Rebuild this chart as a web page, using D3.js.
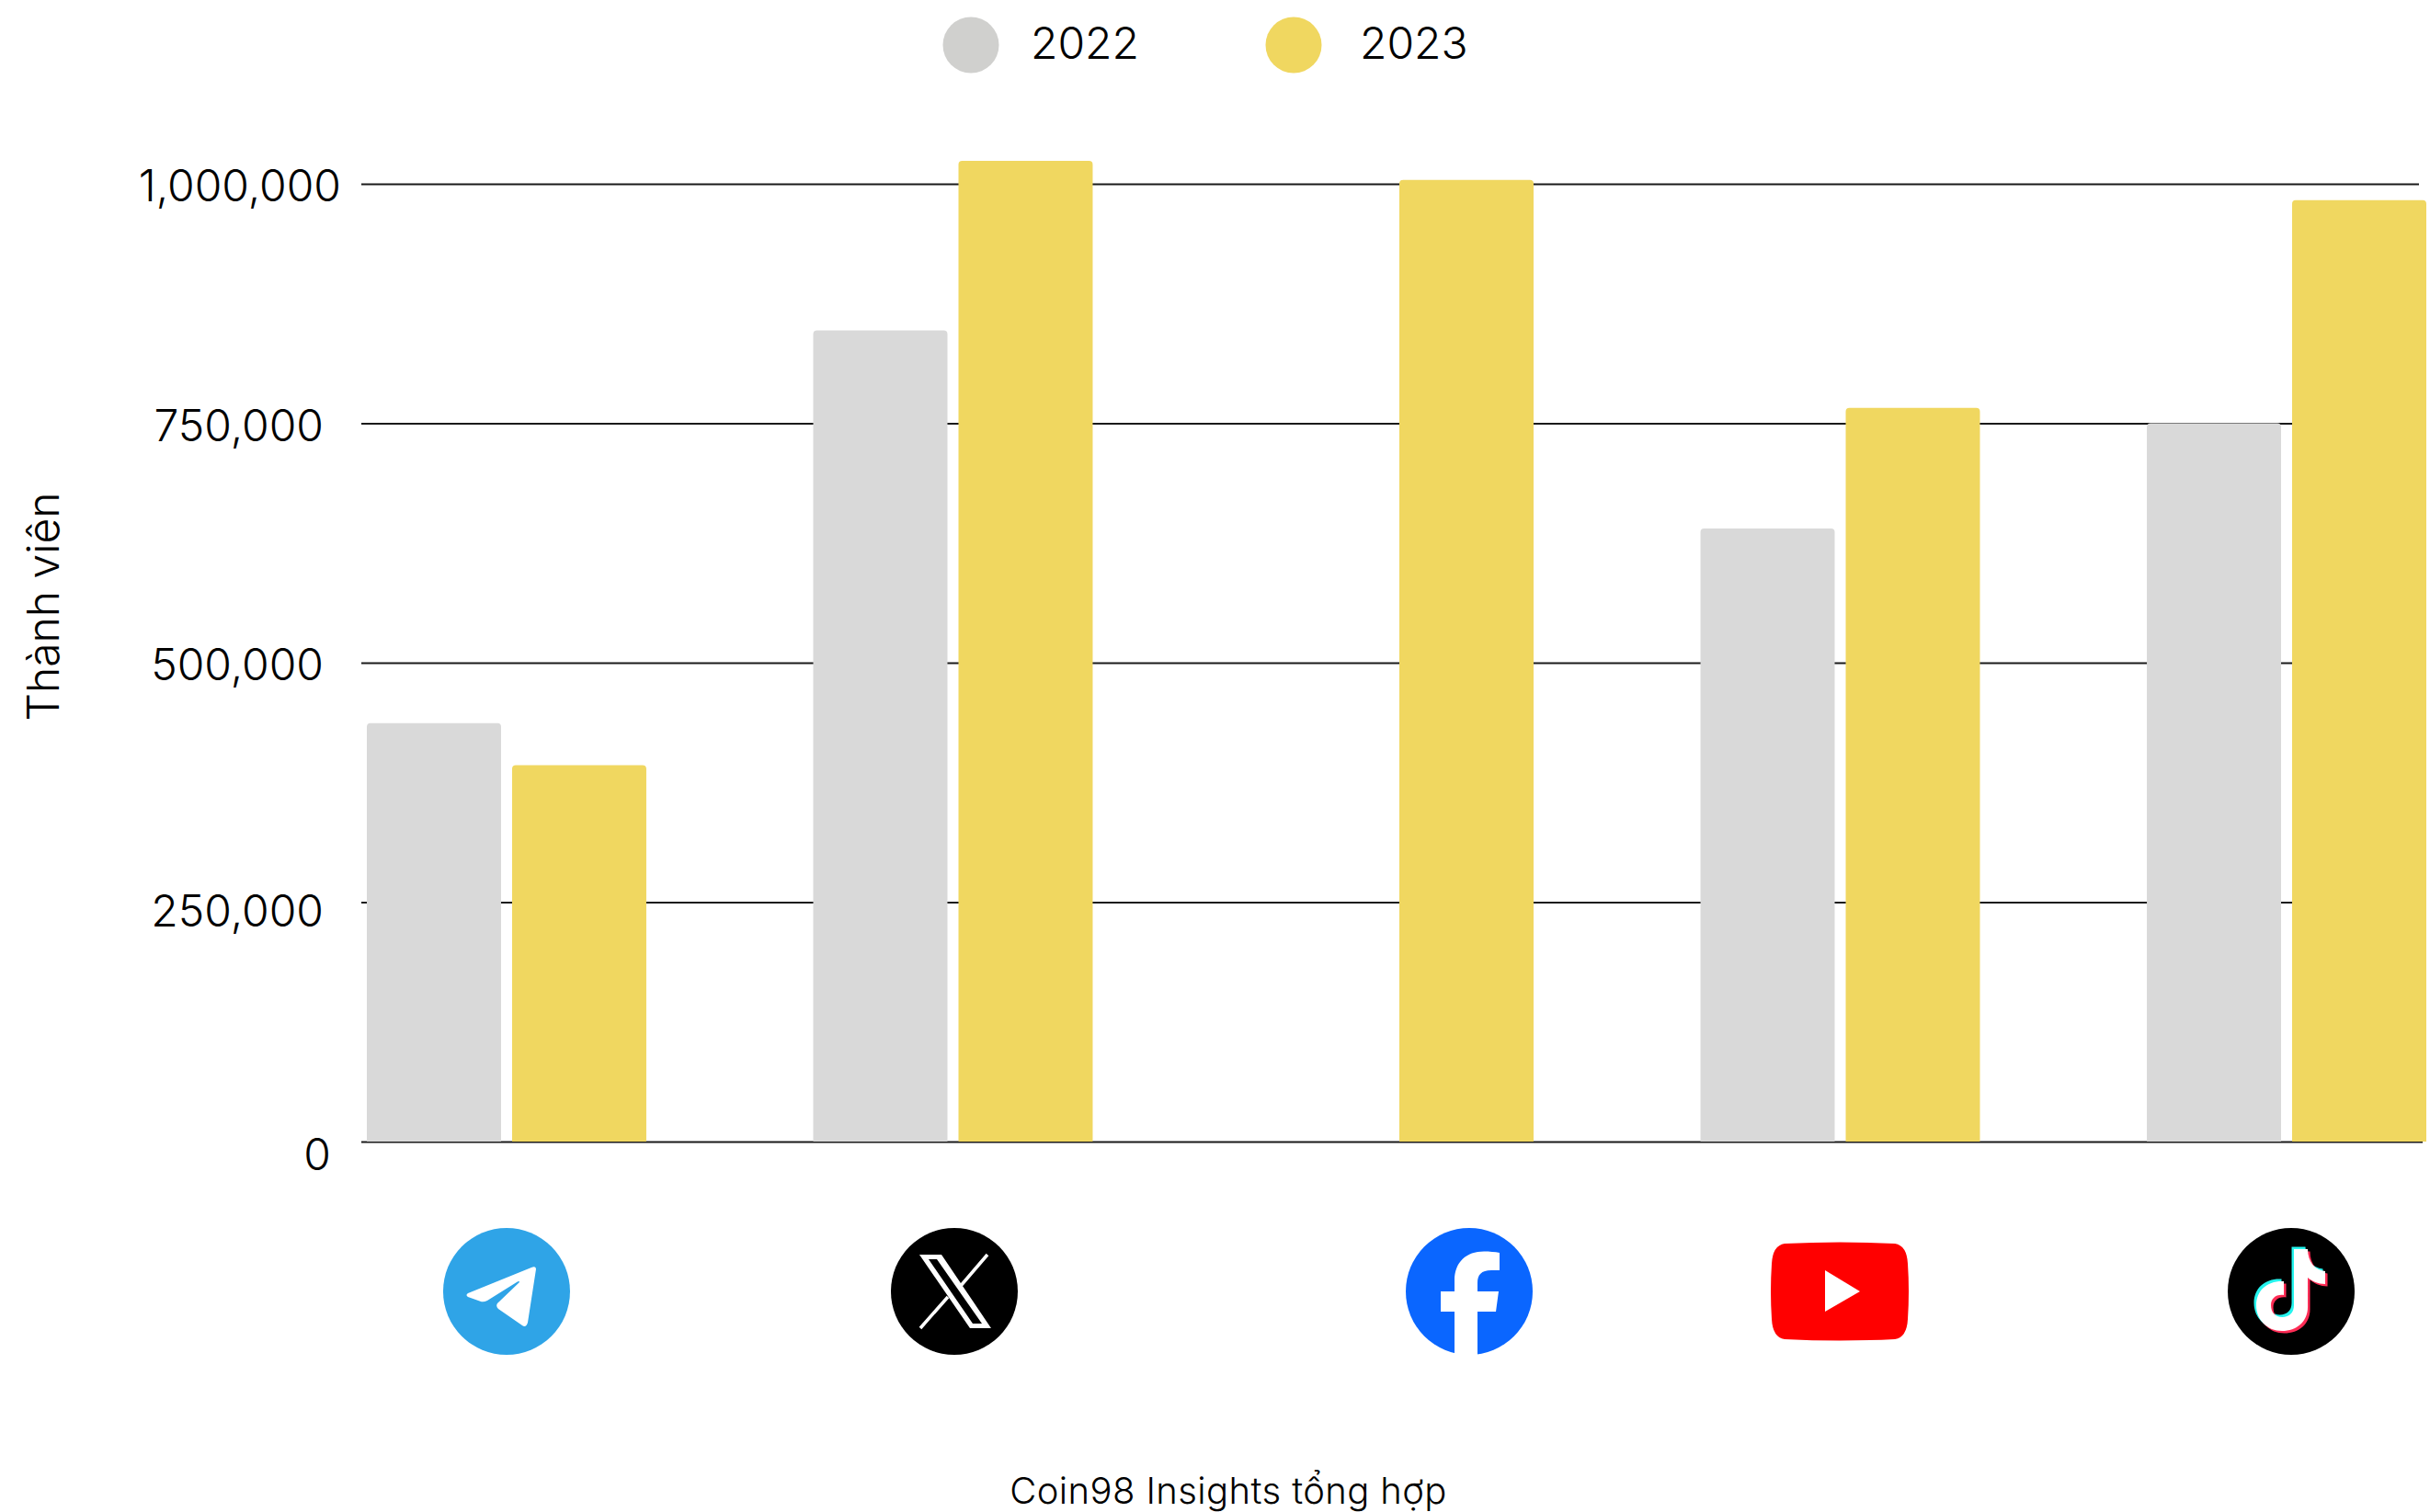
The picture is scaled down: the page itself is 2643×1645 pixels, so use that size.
<!DOCTYPE html>
<html>
<head>
<meta charset="utf-8">
<script src="https://cdn.jsdelivr.net/npm/d3@7"></script>
<style>
  body { margin: 0; background: #fff; }
  text { font-family: Inter, sans-serif; font-weight: 300; fill: #000; }
</style>
</head>
<body>
<div id="chart"></div>
<script>
//Data
const platforms = ['Telegram', 'X', 'Facebook', 'YouTube', 'TikTok'];
const years = ['2022', '2023'];
const members2022 = [437000, 847000, null, 640000, 750000];
const members2023 = [393000, 1024000, 1004000, 766000, 983000];
const tickValues = [0, 250000, 500000, 750000, 1000000];
const yearColors = ['#d9d9d9', '#f0d760'];
const legendColors = ['#d0d0ce', '#f0d760'];

const width = 2643;
const height = 1645;

const svg = d3.select('#chart')
  .append('svg')
  .attr('width', width)
  .attr('height', height)
  .style('display', 'block');

//Scales
const y = d3.scaleLinear().domain([0, 1000000]).range([1242, 200]);
const x0 = d3.scaleBand().domain(platforms).range([399, 2639]).paddingInner(0.372);
const x1 = d3.scaleBand().domain(years).range([0, x0.bandwidth()]).paddingInner(0.076);

//Y axis with gridlines
const yAxis = d3.axisLeft(y)
  .tickValues(tickValues)
  .tickSize(-(2631 - 393))
  .tickFormat(d3.format(','));

const axisG = svg.append('g')
  .attr('transform', 'translate(393,0)')
  .call(yAxis);
axisG.select('.domain').remove();
axisG.selectAll('line').attr('stroke', '#1a1a1a').attr('stroke-width', 2);
axisG.selectAll('g.tick').filter(d => d === 0).select('line').attr('x2', 2635 - 393);

//tick labels sit unevenly in the original, so shift them per value
const labelRight = { 0: 360, 250000: 352, 500000: 352, 750000: 352, 1000000: 371 };
const labelDrop = { 0: 30, 250000: 26, 500000: 18, 750000: 19, 1000000: 18 };
axisG.selectAll('text')
  .attr('font-size', 48)
  .attr('dy', 0)
  .attr('x', d => labelRight[d] - 393)
  .attr('y', d => labelDrop[d])
  .attr('text-anchor', 'end');

//Bars, flat bottom and small cut top corners
function barPath(px, py, w, h) {
  const c = 4;
  return `M${px},${py + h}V${py + c}Q${px},${py} ${px + c},${py}H${px + w - c}Q${px + w},${py} ${px + w},${py + c}V${py + h}Z`;
}

// the groups are not evenly spaced in the original
const slotNudge = { X: 1.5, Facebook: -3, YouTube: -1.5 };

const series = [members2022, members2023];
years.forEach((yr, s) => {
  const rows = platforms
    .map((p, i) => ({ platform: p, value: series[s][i] }))
    .filter(d => d.value !== null);
  svg.append('g').selectAll('path')
    .data(rows)
    .enter()
    .append('path')
    .attr('fill', yearColors[s])
    .attr('d', d => barPath(
      x0(d.platform) + x1(yr) + (slotNudge[d.platform] || 0),
      y(d.value),
      x1.bandwidth(),
      y(0) - y(d.value)
    ));
});

//Legend
const legendX = [1056, 1407];
const legendTextX = [1121, 1479];
const legend = svg.append('g');
legend.selectAll('circle')
  .data(years)
  .enter()
  .append('circle')
  .attr('cx', (d, i) => legendX[i])
  .attr('cy', 49)
  .attr('r', 30.5)
  .attr('fill', (d, i) => legendColors[i]);
legend.selectAll('text')
  .data(years)
  .enter()
  .append('text')
  .attr('x', (d, i) => legendTextX[i])
  .attr('y', 64)
  .attr('font-size', 48)
  .text(d => d);

//Axis title and source
svg.append('text')
  .attr('transform', 'translate(64,660) rotate(-90)')
  .attr('text-anchor', 'middle')
  .attr('font-size', 48)
  .text('Thành viên');

svg.append('text')
  .attr('x', 1336)
  .attr('y', 1636)
  .attr('text-anchor', 'middle')
  .attr('font-size', 40)
  .attr('letter-spacing', 0.4)
  .text('Coin98 Insights tổng hợp');

//Platform icons in place of category labels
const iconY = 1405;
const iconR = 69;
const iconShift = { Telegram: 0, X: 3, Facebook: 79, YouTube: -2, TikTok: 5 };

const icons = {
  Telegram(g) {
    g.append('circle').attr('r', iconR).attr('fill', '#2fa4e7');
    g.append('path').attr('fill', '#fff')
      .attr('d', 'M-42,2 L27,-26 Q32,-28 32,-24 L23,34 Q21,40 17,37 L-9,19 Q-12,16 -10,13 L14,-10 Q14,-12 11,-10 L-21,10 Q-25,12 -28,11 L-42,6 Q-45,4 -42,2Z');
  },
  X(g) {
    g.append('circle').attr('r', iconR).attr('fill', '#000');
    g.append('path').attr('fill', '#fff').attr('fill-rule', 'evenodd')
      .attr('d', 'M-38,-40 L-14,-40 L40,40 L17,40 Z M-28,-35 L-19,-35 L30,35 L20,35 Z');
    g.append('path').attr('stroke', '#fff').attr('stroke-width', 3.5).attr('fill', 'none')
      .attr('d', 'M36,-40 L6,-5 M-7,6 L-37,40');
  },
  Facebook(g) {
    g.append('circle').attr('r', iconR).attr('fill', '#0a66ff');
    g.append('path').attr('fill', '#fff')
      .attr('d', 'M33,-42 C28,-43 22,-43.5 16,-43.5 C-3,-43.5 -16,-32 -16,-12 L-16,0 L-31,0 L-31,22 L-16,22 L-16,70 L9,70 L9,22 L29,22 L32,0 L9,0 L9,-9 C9,-18 13,-23 24,-23 L33,-23 Z');
  },
  YouTube(g) {
    g.append('path').attr('fill', '#ff0000')
      .attr('d', 'M-60,-52 Q0,-55 60,-52 Q73,-50 74,-30 Q76,0 74,30 Q73,50 60,52 Q0,55 -60,52 Q-73,50 -74,30 Q-76,0 -74,-30 Q-73,-50 -60,-52Z');
    g.append('path').attr('fill', '#fff').attr('d', 'M-16,-23 L22,0 L-16,22Z');
  },
  TikTok(g) {
    const note = 'M3,-46 L18,-46 C18,-32 26,-23 37,-22 L37,-8 C29,-8 23,-11 18,-15 L18,17 C18,33 6,43 -10,43 C-26,43 -38,31 -38,15 C-38,-1 -26,-12 -8,-11 L-8,4 C-17,3 -22,8 -22,15 C-22,23 -17,28 -10,28 C-2,28 3,23 3,15 Z';
    g.append('circle').attr('r', iconR).attr('fill', '#000');
    g.append('path').attr('fill', '#25f4ee').attr('d', note).attr('transform', 'translate(-2.5,-2.5)');
    g.append('path').attr('fill', '#fe2c55').attr('d', note).attr('transform', 'translate(2.5,2.5)');
    g.append('path').attr('fill', '#fff').attr('d', note);
  }
};

platforms.forEach(p => {
  const g = svg.append('g')
    .attr('transform', `translate(${x0(p) + x0.bandwidth() / 2 + iconShift[p]},${iconY})`);
  icons[p](g);
});
</script>
</body>
</html>
